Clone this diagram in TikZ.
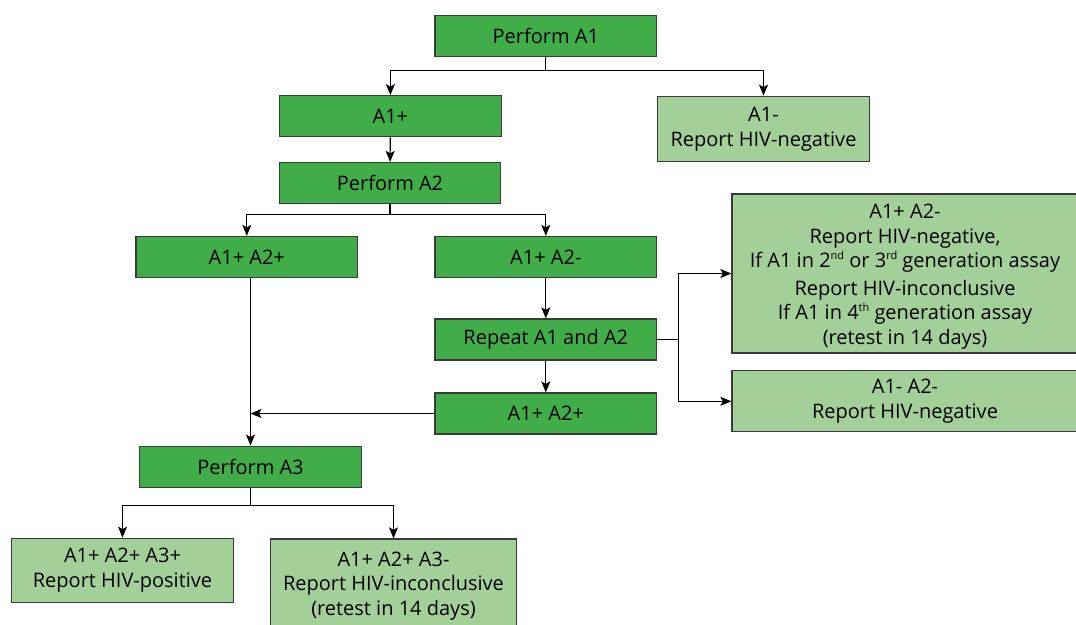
\documentclass[tikz,border=0pt]{standalone}
\usepackage{fontspec}
\setmainfont{Open Sans}
\usetikzlibrary{arrows.meta}
\tikzset{>={Stealth[length=11pt,width=9pt,inset=2.5pt]}}
\tikzset{every text node part/.style={align=center}}
\definecolor{testgreen}{RGB}{64,173,72}
\definecolor{resultgreen}{RGB}{163,208,153}
\definecolor{boxline}{RGB}{58,58,58}
\newcommand{\ordsup}[1]{\raisebox{0.42em}{\fontsize{11}{11}\selectfont #1}}
\tikzset{
	testbox/.style={draw=boxline, line width=1.3pt, fill=testgreen, inner sep=0pt,
		minimum width=221.5pt, minimum height=41pt, font=\fontsize{20}{24.5}\selectfont},
	resultbox/.style={testbox, fill=resultgreen},
	flow/.style={->, line width=1.1pt, black}
}

\begin{document}
\begin{tikzpicture}[x=1pt, y=-1pt]
\useasboundingbox (0,0) rectangle (1076,624);

% First assay
\node[testbox] (pa1) at (545.8,36.2) {Perform A1};
\node[testbox] (a1p) at (390.4,116.2) {A1+};
\node[resultbox, minimum width=212.5pt, minimum height=65.5pt] (a1n) at (763.5,129) {A1-\\Report HIV-negative};

% Second assay
\node[testbox] (pa2) at (390,183) {Perform A2};
\node[testbox] (a12pp) at (246.8,257) {A1+ A2+};
\node[testbox] (a12pn) at (545.8,257) {A1+ A2-};
\node[testbox] (rep) at (545.8,339.5) {Repeat A1 and A2};
\node[testbox] (a12pp2) at (545.8,413.5) {A1+ A2+};

%% Outcomes of the repeat
\node[resultbox, minimum width=346pt, minimum height=159pt] (a12pnres) at (905,273.5)
	{\rule{0pt}{20.5pt}A1+ A2-\\Report HIV-negative,\\If A1 in 2\ordsup{nd} or 3\ordsup{rd} generation assay\\[3pt]
	 Report HIV-inconclusive\\If A1 in 4\ordsup{th} generation assay\\(retest in 14 days)};
\node[resultbox, minimum width=346pt, minimum height=61pt] (a12nn) at (905,401.3) {A1- A2-\\Report HIV-negative};

% Third assay
\node[testbox] (pa3) at (250.5,466.7) {Perform A3};
\node[resultbox, minimum height=64pt] (a123p) at (122.5,570.3) {A1+ A2+ A3+\\Report HIV-positive};
\node[resultbox, minimum width=246pt, minimum height=94pt] (a123n) at (393.5,586)
	{A1+ A2+ A3-\\Report HIV-inconclusive\\(retest in 14 days)};

% Connectors
\draw[flow] (pa1.south) -- ++(0,13.3) -| (a1p);
\draw[flow] (pa1.south) -- ++(0,13.3) -| (a1n);
\draw[flow] (a1p) -- (pa2);
\draw[flow] (pa2.south) -- ++(0,10.7) -| (a12pp);
\draw[flow] (pa2.south) -- ++(0,10.7) -| (a12pn);
\draw[flow] (pa3 |- a12pp.south) -- (pa3);
\draw[flow] (a12pn) -- (rep);
\draw[flow] (rep) -- (a12pp2);
\draw[flow] (a12pp2.west) -- (a12pp2.west -| pa3);
\draw[line width=1.1pt] (rep.east) -- ++(21.5,0) coordinate (fork);
\draw[flow] (fork) |- (a12pnres);
\draw[flow] (fork) |- (a12nn);
\draw[flow] (pa3.south) -- ++(0,17.7) -| (a123p);
\draw[flow] (pa3.south) -- ++(0,17.7) -| (a123n);

\end{tikzpicture}
\end{document}
